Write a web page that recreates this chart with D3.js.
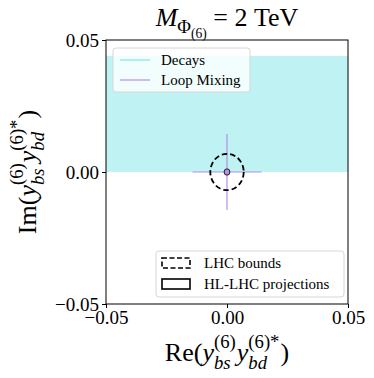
<!DOCTYPE html>
<html>
  <head>
    <script src="https://d3js.org/d3.v7.min.js"></script>
    <style>
      body { margin: 0; background: #fff; }
      svg text { font-family: "Liberation Serif", "DejaVu Serif", serif; fill: #000; }
      .tick text { font-size: 19px; }
    </style>
  </head>
  <body>
    <svg width="374" height="378"></svg>
    <script>
      // data
      const xDomain = [-0.05, 0.05];
      const yDomain = [-0.05, 0.05];
      const xTicks = [-0.05, 0, 0.05];
      const yTicks = [-0.05, 0, 0.05];
      const decaysBand = [0, 0.044];          // Im range allowed by decays
      const loopMixX = [-0.0143, 0.0143];     // Re range, loop mixing
      const loopMixY = [-0.0144, 0.0144];     // Im range, loop mixing
      const centre = [0, 0];
      const lhcRadius = 0.0069;
      const hlRadius = 0.0012;
      const legendTop = ["Decays", "Loop Mixing"];
      const legendBottom = ["LHC bounds", "HL-LHC projections"];

      const cyan = "#7fe8e8";
      const cyanFill = "#bff3f3";
      const purple = "#b98de8";
      const serif = "'Liberation Serif', 'DejaVu Serif', serif";

      const margin = {left: 106, right: 26, top: 40, bottom: 74};
      const W = 374, H = 378;
      const svg = d3.select("svg");

      const x = d3.scaleLinear().domain(xDomain).range([margin.left, W - margin.right]);
      const y = d3.scaleLinear().domain(yDomain).range([H - margin.bottom, margin.top]);

      // decays band
      svg.append("rect")
        .attr("x", x(xDomain[0]))
        .attr("width", x(xDomain[1]) - x(xDomain[0]))
        .attr("y", y(decaysBand[1]))
        .attr("height", y(decaysBand[0]) - y(decaysBand[1]))
        .attr("fill", cyanFill);

      // loop mixing cross
      svg.append("line")
        .attr("x1", x(loopMixX[0])).attr("x2", x(loopMixX[1]))
        .attr("y1", y(centre[1])).attr("y2", y(centre[1]))
        .attr("stroke", purple).attr("stroke-width", 1.2);
      svg.append("line")
        .attr("x1", x(centre[0])).attr("x2", x(centre[0]))
        .attr("y1", y(loopMixY[0])).attr("y2", y(loopMixY[1]))
        .attr("stroke", purple).attr("stroke-width", 1.2);

      // LHC bounds (dashed) and HL-LHC (solid)
      svg.append("ellipse")
        .attr("cx", x(centre[0])).attr("cy", y(centre[1]))
        .attr("rx", x(lhcRadius) - x(0)).attr("ry", y(0) - y(lhcRadius))
        .attr("fill", "none").attr("stroke", "#000")
        .attr("stroke-width", 1.8).attr("stroke-dasharray", "5.5,3");
      svg.append("ellipse")
        .attr("cx", x(centre[0])).attr("cy", y(centre[1]))
        .attr("rx", x(hlRadius) - x(0)).attr("ry", y(0) - y(hlRadius))
        .attr("fill", purple).attr("stroke", "#222").attr("stroke-width", 1);

      // axes
      const fmt = d3.format(".2f");
      const tickFmt = d => (d < 0 ? "\u2212" : "") + fmt(Math.abs(d));
      svg.append("g")
        .attr("transform", `translate(0,${H - margin.bottom})`)
        .call(d3.axisBottom(x).tickValues(xTicks).tickFormat(tickFmt).tickSize(4).tickPadding(3))
        .call(g => g.select(".domain").remove());
      svg.append("g")
        .attr("transform", `translate(${margin.left},0)`)
        .call(d3.axisLeft(y).tickValues(yTicks).tickFormat(tickFmt).tickSize(4).tickPadding(3))
        .call(g => g.select(".domain").remove())
        .call(g => g.selectAll(".tick text").attr("dy", "0.32em"));

      svg.append("rect")
        .attr("x", margin.left).attr("y", margin.top)
        .attr("width", W - margin.left - margin.right)
        .attr("height", H - margin.top - margin.bottom)
        .attr("fill", "none").attr("stroke", "#000").attr("stroke-width", 1);

      // math-ish text helper
      function addMath(textSel, parts, base) {
        let cur = 0, pend = 0;
        const put = (t, off, size, italic, dx) => {
          const ts = textSel.append("tspan")
            .attr("dy", (off - cur) * base)
            .style("font-size", (size * base) + "px")
            .style("font-style", italic ? "italic" : "normal")
            .text(t);
          if (dx) ts.attr("dx", dx);
          cur = off;
          return ts;
        };
        parts.forEach(p => {
          if (p.sub !== undefined && p.sup !== undefined) {
            const a = put(p.sup, -0.5, 0.72, false, pend || null);
            const wa = a.node().getComputedTextLength();
            const b = put(p.sub, 0.3, 0.72, true, -wa);
            const wb = b.node().getComputedTextLength();
            pend = Math.max(0, wa - wb) + 1;
          } else {
            put(p.t, p.off || 0, p.s || 1, p.i, pend || null);
            pend = 0;
          }
        });
      }

      const coupling = [
        {t: "Re("},
        {t: "y", i: true},
        {sub: "bs", sup: "(6)"},
        {t: "y", i: true},
        {sub: "bd", sup: "(6)*"},
        {t: ")"}
      ];

      // title
      const title = svg.append("text").attr("x", 227).attr("y", 26).attr("text-anchor", "middle");
      addMath(title, [
        {t: "M", i: true},
        {t: "\u03A6", off: 0.25, s: 0.72},
        {t: "(6)", off: 0.45, s: 0.52},
        {t: " = 2 TeV", off: 0}
      ], 26);

      const xl = svg.append("text").attr("x", 227).attr("y", 361).attr("text-anchor", "middle");
      addMath(xl, coupling, 26);

      const yl = svg.append("text")
        .attr("transform", `translate(36,172) rotate(-90)`)
        .attr("text-anchor", "middle");
      addMath(yl, [{t: "Im("}].concat(coupling.slice(1)), 26);

      // top legend
      const lg1 = svg.append("g").attr("transform", "translate(113,48)");
      lg1.append("rect").attr("width", 137).attr("height", 44).attr("rx", 3)
        .attr("fill", "#fff").attr("fill-opacity", 0.8).attr("stroke", "#d6d6d6");
      const items1 = lg1.selectAll(".item").data(legendTop).enter().append("g")
        .attr("class", "item")
        .attr("transform", (d, i) => `translate(0,${12 + i * 20})`);
      items1.append("line").attr("x1", 7).attr("x2", 37)
        .attr("stroke", (d, i) => i === 0 ? cyan : purple).attr("stroke-width", 1.2);
      items1.append("text").attr("x", 48).attr("dy", "0.35em")
        .style("font-family", serif).style("font-size", "15px").text(d => d);

      // bottom legend
      const lg2 = svg.append("g").attr("transform", "translate(156,251)");
      lg2.append("rect").attr("width", 188).attr("height", 46).attr("rx", 3)
        .attr("fill", "#fff").attr("fill-opacity", 0.8).attr("stroke", "#d6d6d6");
      const items2 = lg2.selectAll(".item").data(legendBottom).enter().append("g")
        .attr("class", "item")
        .attr("transform", (d, i) => `translate(0,${12 + i * 21})`);
      items2.append("rect").attr("x", 6).attr("y", -5).attr("width", 28).attr("height", 10)
        .attr("fill", "none").attr("stroke", "#000").attr("stroke-width", 1.6)
        .attr("stroke-dasharray", (d, i) => i === 0 ? "5,2.5" : null);
      items2.append("text").attr("x", 48).attr("dy", "0.35em")
        .style("font-family", serif).style("font-size", "15px").text(d => d);
    </script>
  </body>
</html>
